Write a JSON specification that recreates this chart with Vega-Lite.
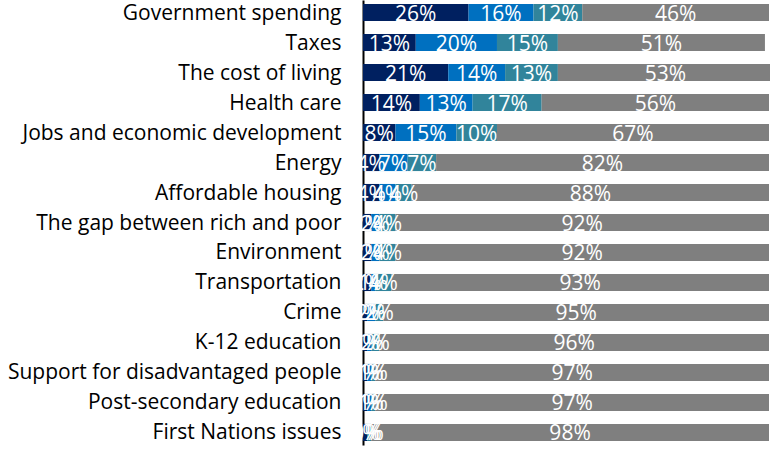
{
  "$schema": "https://vega.github.io/schema/vega-lite/v6.json",
  "autosize": "none",
  "width": 406,
  "height": 445,
  "padding": {"left": 363, "top": 0, "right": 1, "bottom": 10},
  "background": "white",
  "config": {"view": {"stroke": null}, "font": "Open Sans"},
  "data": {"values": [
    {"issue": "Government spending", "s": "First", "r": 1, "v": 0.26},
    {"issue": "Government spending", "s": "Second", "r": 2, "v": 0.16},
    {"issue": "Government spending", "s": "Third", "r": 3, "v": 0.12},
    {"issue": "Government spending", "s": "Not mentioned", "r": 4, "v": 0.46},
    {"issue": "Taxes", "s": "First", "r": 1, "v": 0.13},
    {"issue": "Taxes", "s": "Second", "r": 2, "v": 0.20},
    {"issue": "Taxes", "s": "Third", "r": 3, "v": 0.15},
    {"issue": "Taxes", "s": "Not mentioned", "r": 4, "v": 0.51},
    {"issue": "The cost of living", "s": "First", "r": 1, "v": 0.21},
    {"issue": "The cost of living", "s": "Second", "r": 2, "v": 0.14},
    {"issue": "The cost of living", "s": "Third", "r": 3, "v": 0.13},
    {"issue": "The cost of living", "s": "Not mentioned", "r": 4, "v": 0.53},
    {"issue": "Health care", "s": "First", "r": 1, "v": 0.14},
    {"issue": "Health care", "s": "Second", "r": 2, "v": 0.13},
    {"issue": "Health care", "s": "Third", "r": 3, "v": 0.17},
    {"issue": "Health care", "s": "Not mentioned", "r": 4, "v": 0.56},
    {"issue": "Jobs and economic development", "s": "First", "r": 1, "v": 0.08},
    {"issue": "Jobs and economic development", "s": "Second", "r": 2, "v": 0.15},
    {"issue": "Jobs and economic development", "s": "Third", "r": 3, "v": 0.10},
    {"issue": "Jobs and economic development", "s": "Not mentioned", "r": 4, "v": 0.67},
    {"issue": "Energy", "s": "First", "r": 1, "v": 0.04},
    {"issue": "Energy", "s": "Second", "r": 2, "v": 0.07},
    {"issue": "Energy", "s": "Third", "r": 3, "v": 0.07},
    {"issue": "Energy", "s": "Not mentioned", "r": 4, "v": 0.82},
    {"issue": "Affordable housing", "s": "First", "r": 1, "v": 0.04},
    {"issue": "Affordable housing", "s": "Second", "r": 2, "v": 0.04},
    {"issue": "Affordable housing", "s": "Third", "r": 3, "v": 0.04},
    {"issue": "Affordable housing", "s": "Not mentioned", "r": 4, "v": 0.88},
    {"issue": "The gap between rich and poor", "s": "First", "r": 1, "v": 0.02},
    {"issue": "The gap between rich and poor", "s": "Second", "r": 2, "v": 0.02},
    {"issue": "The gap between rich and poor", "s": "Third", "r": 3, "v": 0.04},
    {"issue": "The gap between rich and poor", "s": "Not mentioned", "r": 4, "v": 0.92},
    {"issue": "Environment", "s": "First", "r": 1, "v": 0.02},
    {"issue": "Environment", "s": "Second", "r": 2, "v": 0.02},
    {"issue": "Environment", "s": "Third", "r": 3, "v": 0.04},
    {"issue": "Environment", "s": "Not mentioned", "r": 4, "v": 0.92},
    {"issue": "Transportation", "s": "First", "r": 1, "v": 0.02},
    {"issue": "Transportation", "s": "Second", "r": 2, "v": 0.01},
    {"issue": "Transportation", "s": "Third", "r": 3, "v": 0.04},
    {"issue": "Transportation", "s": "Not mentioned", "r": 4, "v": 0.93},
    {"issue": "Crime", "s": "First", "r": 1, "v": 0.01},
    {"issue": "Crime", "s": "Second", "r": 2, "v": 0.02},
    {"issue": "Crime", "s": "Third", "r": 3, "v": 0.02},
    {"issue": "Crime", "s": "Not mentioned", "r": 4, "v": 0.95},
    {"issue": "K-12 education", "s": "First", "r": 1, "v": 0.01},
    {"issue": "K-12 education", "s": "Second", "r": 2, "v": 0.01},
    {"issue": "K-12 education", "s": "Third", "r": 3, "v": 0.02},
    {"issue": "K-12 education", "s": "Not mentioned", "r": 4, "v": 0.96},
    {"issue": "Support for disadvantaged people", "s": "First", "r": 1, "v": 0.01},
    {"issue": "Support for disadvantaged people", "s": "Second", "r": 2, "v": 0.01},
    {"issue": "Support for disadvantaged people", "s": "Third", "r": 3, "v": 0.01},
    {"issue": "Support for disadvantaged people", "s": "Not mentioned", "r": 4, "v": 0.97},
    {"issue": "Post-secondary education", "s": "First", "r": 1, "v": 0.01},
    {"issue": "Post-secondary education", "s": "Second", "r": 2, "v": 0.01},
    {"issue": "Post-secondary education", "s": "Third", "r": 3, "v": 0.01},
    {"issue": "Post-secondary education", "s": "Not mentioned", "r": 4, "v": 0.97},
    {"issue": "First Nations issues", "s": "First", "r": 1, "v": 0.01},
    {"issue": "First Nations issues", "s": "Second", "r": 2, "v": 0.00},
    {"issue": "First Nations issues", "s": "Third", "r": 3, "v": 0.01},
    {"issue": "First Nations issues", "s": "Not mentioned", "r": 4, "v": 0.98}
  ]},
  "encoding": {
    "y": {"field": "issue", "type": "nominal", "sort": null,
      "scale": {"paddingInner": 0.43, "paddingOuter": 0.133},
      "axis": {"title": null, "ticks": false, "domainColor": "black", "domainWidth": 2,
        "labelColor": "black", "labelFontSize": 21, "labelPadding": 22, "labelFont": "Open Sans", "labelLimit": 400, "labelOffset": 1}},
    "x": {"field": "v", "type": "quantitative", "stack": "zero",
      "scale": {"domain": [0, 1], "nice": false}, "axis": null},
    "order": {"field": "r", "type": "quantitative"}
  },
  "layer": [
    {"mark": {"type": "bar"},
     "encoding": {
       "color": {"field": "s", "type": "nominal", "legend": null,
         "scale": {"domain": ["First", "Second", "Third", "Not mentioned"],
                   "range": ["#002060", "#0070C0", "#31849B", "#7F7F7F"]}}}},
    {"mark": {"type": "text", "color": "white", "fontSize": 21, "font": "Open Sans", "baseline": "middle", "dy": 2},
     "encoding": {
       "x": {"field": "v", "type": "quantitative", "stack": "zero", "bandPosition": 0.5},
       "text": {"field": "v", "type": "quantitative", "format": ".0%"}}}
  ]
}
